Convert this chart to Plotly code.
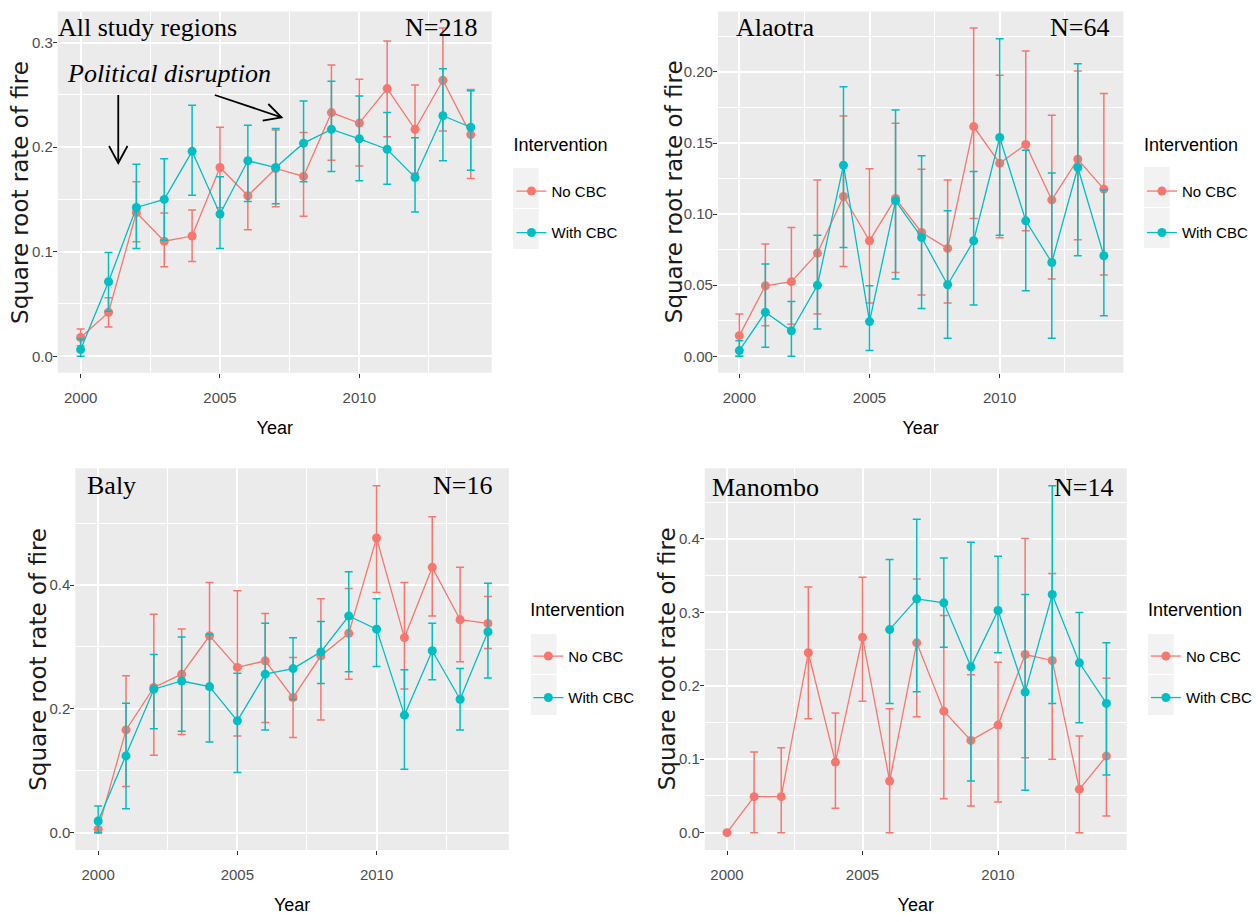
import plotly.graph_objects as go

W, H = 1258, 922

years = list(range(2000, 2015))

# ---- All study regions (N=218) ----
all_no_mean = [0.018, 0.042, 0.1375, 0.110, 0.115, 0.1805, 0.1535, 0.1796, 0.172, 0.233, 0.223, 0.256, 0.217, 0.264, 0.212]
all_no_lo = [0.010, 0.028, 0.1095, 0.0856, 0.0907, 0.142, 0.121, 0.143, 0.134, 0.1875, 0.182, 0.210, 0.175, 0.2155, 0.170]
all_no_hi = [0.026, 0.056, 0.1668, 0.137, 0.140, 0.219, 0.186, 0.2165, 0.2139, 0.2786, 0.265, 0.3015, 0.2595, 0.314, 0.255]
all_with_mean = [0.0064, 0.0713, 0.1423, 0.150, 0.196, 0.136, 0.187, 0.1805, 0.2038, 0.217, 0.208, 0.198, 0.171, 0.230, 0.219]
all_with_lo = [0.0, 0.043, 0.103, 0.111, 0.154, 0.103, 0.148, 0.1458, 0.1668, 0.1767, 0.1678, 0.1646, 0.138, 0.187, 0.178]
all_with_hi = [0.0166, 0.0993, 0.1837, 0.189, 0.240, 0.1716, 0.221, 0.2178, 0.244, 0.263, 0.249, 0.233, 0.209, 0.275, 0.254]

# ---- Alaotra (N=64) ----
ala_no_mean = [0.0145, 0.0496, 0.0525, 0.0726, 0.1124, 0.0813, 0.111, 0.0871, 0.0759, 0.1616, 0.1358, 0.149, 0.110, 0.1386, 0.1176]
ala_no_lo = [0.0, 0.0215, 0.0225, 0.0297, 0.0632, 0.0375, 0.059, 0.0431, 0.0375, 0.097, 0.0834, 0.0883, 0.0543, 0.082, 0.0571]
ala_no_hi = [0.0297, 0.079, 0.0906, 0.124, 0.169, 0.132, 0.164, 0.1316, 0.124, 0.231, 0.1977, 0.2148, 0.1696, 0.2007, 0.1848]
ala_with_mean = [0.004, 0.031, 0.018, 0.050, 0.1344, 0.0244, 0.1094, 0.0836, 0.0503, 0.0813, 0.1539, 0.0953, 0.066, 0.1328, 0.0707]
ala_with_lo = [0.0, 0.0063, 0.0, 0.0192, 0.0766, 0.004, 0.0543, 0.0337, 0.0126, 0.036, 0.0852, 0.0461, 0.0126, 0.0707, 0.0286]
ala_with_hi = [0.011, 0.0649, 0.0386, 0.0852, 0.1897, 0.0496, 0.1733, 0.141, 0.1023, 0.130, 0.2234, 0.145, 0.129, 0.2058, 0.117]

# ---- Baly (N=16) ----
baly_no_mean = [0.0054, 0.166, 0.2345, 0.256, 0.318, 0.267, 0.2776, 0.2183, 0.2857, 0.322, 0.476, 0.315, 0.4286, 0.344, 0.338]
baly_no_lo = [0.0, 0.0744, 0.125, 0.1585, 0.232, 0.156, 0.178, 0.1536, 0.182, 0.248, 0.388, 0.232, 0.350, 0.276, 0.2976]
baly_no_hi = [0.015, 0.2534, 0.353, 0.329, 0.404, 0.391, 0.354, 0.283, 0.378, 0.3946, 0.5606, 0.404, 0.5105, 0.4286, 0.3817]
baly_with_mean = [0.0189, 0.124, 0.2318, 0.245, 0.236, 0.1806, 0.256, 0.265, 0.292, 0.350, 0.3288, 0.1898, 0.2938, 0.2156, 0.3245]
baly_with_lo = [0.0, 0.0388, 0.168, 0.164, 0.1466, 0.097, 0.166, 0.215, 0.241, 0.260, 0.2685, 0.1024, 0.247, 0.166, 0.250]
baly_with_hi = [0.043, 0.209, 0.288, 0.316, 0.3207, 0.2577, 0.3385, 0.315, 0.341, 0.4216, 0.378, 0.263, 0.3385, 0.265, 0.403]

# ---- Manombo (N=14) ----
man_no_mean = [0.0, 0.049, 0.049, 0.245, 0.0961, 0.266, 0.0703, 0.2585, 0.1655, 0.1256, 0.1465, 0.2426, 0.2345, 0.059, 0.1043]
man_no_lo = [0.0, 0.0, 0.0, 0.155, 0.0331, 0.179, 0.0, 0.158, 0.0463, 0.0363, 0.0417, 0.102, 0.0998, 0.0, 0.0227]
man_no_hi = [0.0, 0.1098, 0.1156, 0.3347, 0.163, 0.348, 0.1687, 0.3456, 0.2957, 0.215, 0.232, 0.4005, 0.353, 0.1315, 0.2104]
man_with_mean = [None] * 6 + [0.2766, 0.3184, 0.313, 0.2258, 0.3025, 0.1914, 0.3243, 0.2313, 0.176]
man_with_lo = [None] * 6 + [0.176, 0.192, 0.2526, 0.0703, 0.245, 0.0576, 0.176, 0.1497, 0.0785]
man_with_hi = [None] * 6 + [0.372, 0.427, 0.374, 0.3955, 0.3764, 0.3243, 0.4726, 0.300, 0.2585]

series_names = ["No CBC", "With CBC"]
RED, CYAN = "#F8766D", "#00BFC4"
Y_TITLE = "Square root rate of fire"

SANS = "Liberation Sans, Arial, sans-serif"
WIDE = "DejaVu Sans, Liberation Sans, Arial, sans-serif"
SERIF = "Liberation Serif, Times New Roman, serif"


def px_x(x):
    return x / W


def px_y(y):
    return 1 - y / H


# Each panel: pixel box of the plotting area, labels, y tick step and format
panels = [
    dict(box=(58.3, 11.5, 496.0, 372.7), title="All study regions", n="N=218", dtick=0.1, fmt=".1f",
         data=(all_no_mean, all_no_lo, all_no_hi, all_with_mean, all_with_lo, all_with_hi),
         legend_xy=(516, 128), keys_x=517.5, keys_y=168, title_x=58.3, title_y=27.5, n_right=481.7, ytitle_x=20),
    dict(box=(724.3, 11.5, 1133.3, 372.7), title="Alaotra", n="N=64", dtick=0.05, fmt=".2f",
         data=(ala_no_mean, ala_no_lo, ala_no_hi, ala_with_mean, ala_with_lo, ala_with_hi),
         legend_xy=(1152, 128), keys_x=1154, keys_y=167, title_x=742, title_y=27.0, n_right=1119.3, ytitle_x=680),
    dict(box=(76.0, 468.3, 513.3, 850.0), title="Baly", n="N=16", dtick=0.2, fmt=".1f",
         data=(baly_no_mean, baly_no_lo, baly_no_hi, baly_with_mean, baly_with_lo, baly_with_hi),
         legend_xy=(533, 593), keys_x=535.5, keys_y=634, title_x=87.3, title_y=486.0, n_right=496.0, ytitle_x=38),
    dict(box=(711.0, 468.3, 1136.7, 850.0), title="Manombo", n="N=14", dtick=0.1, fmt=".1f",
         data=(man_no_mean, man_no_lo, man_no_hi, man_with_mean, man_with_lo, man_with_hi),
         legend_xy=(1156, 593), keys_x=1158, keys_y=634, title_x=718, title_y=487.0, n_right=1123.3, ytitle_x=673),
]

X_RANGE = [1999.18, 2014.75]

fig = go.Figure()
layout = dict(
    width=W, height=H,
    margin=dict(l=0, r=0, t=0, b=0),
    paper_bgcolor="white",
    plot_bgcolor="#EBEBEB",
    showlegend=True,
    annotations=[],
    shapes=[],
)

for i, p in enumerate(panels, start=1):
    sfx = "" if i == 1 else str(i)
    xa, ya = "x" + sfx, "y" + sfx
    leg = "legend" + sfx
    x0, y0, x1, y1 = p["box"]
    no_m, no_lo, no_hi, w_m, w_lo, w_hi = p["data"]

    for name, m, lo, hi, col in [(series_names[0], no_m, no_lo, no_hi, RED),
                                  (series_names[1], w_m, w_lo, w_hi, CYAN)]:
        up = [None if v is None else h - v for v, h in zip(m, hi)]
        dn = [None if v is None else v - l for v, l in zip(m, lo)]
        fig.add_trace(go.Scatter(
            x=years, y=m, name=name, mode="lines+markers",
            xaxis=xa, yaxis=ya, legend=leg, legendgroup=f"{leg}-{name}",
            line=dict(color=col, width=1.3),
            marker=dict(color=col, size=9),
            error_y=dict(type="data", symmetric=False, array=up, arrayminus=dn,
                         color=col, thickness=1.5, width=4),
            connectgaps=False,
        ))

    # y range: error-bar extent padded by 5% on each side
    lows = [v for v in no_lo + w_lo if v is not None]
    highs = [v for v in no_hi + w_hi if v is not None]
    lo, hi = min(lows), max(highs)
    pad = (hi - lo) * 0.05
    y_range = [lo - pad, hi + pad]

    tickfont = dict(family=SANS, size=15, color="#4D4D4D")
    layout["xaxis" + sfx] = dict(
        domain=[px_x(x0), px_x(x1)], anchor=ya, range=X_RANGE,
        tick0=2000, dtick=5, ticks="outside", ticklen=4, tickwidth=1, tickcolor="#333333",
        showgrid=True, gridcolor="white", gridwidth=1.6,
        minor=dict(tick0=2000, dtick=2.5, showgrid=True, gridcolor="white", gridwidth=0.8),
        zeroline=False, showline=False, tickfont=tickfont, ticklabelstandoff=7,
        title=dict(text="Year", font=dict(family=SANS, size=18, color="black"), standoff=16),
        automargin=False, fixedrange=True,
    )
    layout["yaxis" + sfx] = dict(
        domain=[px_y(y1), px_y(y0)], anchor=xa, range=y_range,
        tick0=0, dtick=p["dtick"], tickformat=p["fmt"],
        ticks="outside", ticklen=4, tickwidth=1, tickcolor="#333333",
        showgrid=True, gridcolor="white", gridwidth=1.6,
        minor=dict(tick0=0, dtick=p["dtick"] / 2, showgrid=True, gridcolor="white", gridwidth=0.8),
        zeroline=False, showline=False, tickfont=tickfont, ticklabelstandoff=-3,
        automargin=False, fixedrange=True,
    )

    # vertical axis title, centred on the panel
    layout["annotations"].append(dict(
        text=Y_TITLE, xref="paper", yref="paper", showarrow=False, textangle=-90,
        x=px_x(p["ytitle_x"]), y=px_y((y0 + y1) / 2), xanchor="center", yanchor="middle",
        font=dict(family=WIDE, size=23, color="#1A1A1A"),
    ))

    lx, ly = p["legend_xy"]
    layout[leg] = dict(
        x=px_x(lx), y=px_y(ly), xanchor="left", yanchor="top",
        bgcolor="rgba(0,0,0,0)",
        title=dict(text="Intervention<br> ", font=dict(family=SANS, size=18, color="black")),
        font=dict(family=SANS, size=15, color="black"),
        tracegroupgap=19, itemwidth=30, traceorder="grouped",
    )

    # grey legend key backgrounds
    kx0, ky0 = p["keys_x"], p["keys_y"]
    for k in range(2):
        layout["shapes"].append(dict(
            type="rect", xref="paper", yref="paper", layer="below",
            x0=px_x(kx0), x1=px_x(kx0 + 26),
            y0=px_y(ky0 + 41 * k), y1=px_y(ky0 + 41 * (k + 1) - 1),
            fillcolor="#F2F2F2", line=dict(width=0),
        ))

    layout["annotations"].append(dict(
        text=p["title"], xref="paper", yref="paper", showarrow=False,
        x=px_x(p["title_x"] - 2), y=px_y(p["title_y"]),
        xanchor="left", yanchor="middle",
        font=dict(family=SERIF, size=26, color="black"),
    ))
    layout["annotations"].append(dict(
        text=p["n"], xref="paper", yref="paper", showarrow=False,
        x=px_x(p["n_right"] + 2), y=px_y(p["title_y"]),
        xanchor="right", yanchor="middle",
        font=dict(family=SERIF, size=26, color="black"),
    ))

# Political disruption note with two arrows
layout["annotations"].append(dict(
    text="<i>Political disruption</i>", xref="paper", yref="paper", showarrow=False,
    x=px_x(66), y=px_y(73), xanchor="left", yanchor="middle",
    font=dict(family=SERIF, size=26, color="black"),
))


def path(points):
    return " ".join(("M" if j == 0 else "L") + f" {px_x(a):.5f},{px_y(b):.5f}"
                    for j, (a, b) in enumerate(points))


arrow_paths = [
    [(119.3, 95), (119.3, 163)],
    [(110.0, 146), (119.3, 163), (128.6, 146)],
    [(216.7, 95), (284.0, 117.3)],
    [(270.7, 104.0), (284.0, 117.3), (265.0, 120.7)],
]
for pts in arrow_paths:
    layout["shapes"].append(dict(
        type="path", xref="paper", yref="paper", path=path(pts),
        line=dict(color="black", width=1.8),
    ))

fig.update_layout(**layout)
fig.write_html("out.html", config={"displayModeBar": False})
